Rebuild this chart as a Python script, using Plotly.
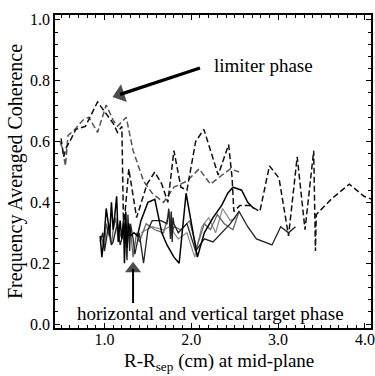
import plotly.graph_objects as go

# Limiter phase (dashed)
lim1_x = [0.50, 0.53, 0.56, 0.60, 0.67, 0.78, 0.92, 1.02, 1.10, 1.15, 1.20, 1.22, 1.28, 1.37, 1.49, 1.58,
          1.66, 1.73, 1.80, 1.88, 1.95, 2.05, 2.145, 2.31, 2.43, 2.47, 2.49, 2.56, 2.67, 2.79, 2.90, 3.01,
          3.12, 3.22, 3.31, 3.41, 3.43, 3.44, 3.61, 3.82, 3.99, 4.08]
lim1_y = [0.61, 0.55, 0.58, 0.60, 0.64, 0.65, 0.73, 0.69, 0.66, 0.63, 0.65, 0.31, 0.51, 0.35, 0.46, 0.50,
          0.46, 0.40, 0.57, 0.45, 0.44, 0.60, 0.64, 0.49, 0.59, 0.48, 0.37, 0.39, 0.39, 0.37, 0.52, 0.48,
          0.29, 0.55, 0.31, 0.57, 0.24, 0.36, 0.41, 0.46, 0.42, 0.41]
lim2_x = [0.49, 0.52, 0.55, 0.58, 0.66, 0.75, 0.82, 0.92, 1.02, 1.10, 1.15, 1.25, 1.33, 1.45, 1.55, 1.68,
          1.80, 1.95, 2.09, 2.22, 2.31, 2.45, 2.55]
lim2_y = [0.60, 0.57, 0.52, 0.62, 0.64, 0.67, 0.68, 0.63, 0.72, 0.67, 0.65, 0.68, 0.57, 0.47, 0.43, 0.40,
          0.45, 0.47, 0.51, 0.46, 0.48, 0.51, 0.50]

# Target phase (solid)
tgt1_x = [0.95, 0.97, 1.00, 1.02, 1.04, 1.06, 1.08, 1.10, 1.12, 1.14, 1.16, 1.18, 1.20, 1.22, 1.23, 1.245,
          1.26, 1.28, 1.30, 1.34, 1.38, 1.42, 1.50, 1.58, 1.66, 1.72, 1.80, 1.86, 1.94, 2.07, 2.15, 2.25,
          2.35, 2.42, 2.48, 2.58, 2.65, 2.72]
tgt1_y = [0.29, 0.22, 0.30, 0.38, 0.34, 0.29, 0.40, 0.31, 0.36, 0.42, 0.27, 0.34, 0.28, 0.33, 0.20, 0.37,
          0.25, 0.33, 0.29, 0.30, 0.29, 0.34, 0.40, 0.41, 0.30, 0.26, 0.22, 0.20, 0.43, 0.22, 0.30, 0.35,
          0.39, 0.43, 0.45, 0.44, 0.40, 0.38]
tgt2_x = [0.95, 0.98, 1.00, 1.03, 1.05, 1.08, 1.10, 1.13, 1.15, 1.18, 1.20, 1.22, 1.24, 1.26, 1.27, 1.29,
          1.30, 1.33, 1.35, 1.40, 1.45, 1.50, 1.55, 1.65, 1.72, 1.74, 1.76, 1.77, 1.78, 1.79, 1.80, 1.85,
          1.95, 2.05, 2.15, 2.25, 2.35, 2.45, 2.55, 2.65, 2.75, 2.93, 3.03, 3.12, 3.20]
tgt2_y = [0.27, 0.30, 0.24, 0.29, 0.33, 0.26, 0.27, 0.31, 0.33, 0.26, 0.28, 0.35, 0.30, 0.21, 0.36, 0.24,
          0.33, 0.28, 0.23, 0.30, 0.20, 0.31, 0.34, 0.34, 0.33, 0.38, 0.28, 0.37, 0.27, 0.35, 0.33, 0.30,
          0.33, 0.24, 0.28, 0.27, 0.30, 0.33, 0.37, 0.32, 0.28, 0.26, 0.32, 0.30, 0.32]
tgt3_x = [0.97, 1.00, 1.02, 1.05, 1.08, 1.10, 1.13, 1.16, 1.18, 1.22, 1.25, 1.27, 1.30, 1.33, 1.37, 1.40,
          1.48, 1.58, 1.68, 1.72, 1.75, 1.78, 1.80, 1.88, 1.98, 2.06, 2.15, 2.22, 2.30, 2.38, 2.48, 2.55]
tgt3_y = [0.28, 0.25, 0.33, 0.29, 0.26, 0.31, 0.35, 0.27, 0.29, 0.32, 0.26, 0.29, 0.31, 0.22, 0.30, 0.27,
          0.33, 0.31, 0.30, 0.34, 0.37, 0.30, 0.32, 0.31, 0.34, 0.25, 0.33, 0.31, 0.36, 0.33, 0.31, 0.37]
tgt4_x = [1.42, 1.55, 1.68, 1.75, 1.85, 1.95, 2.04, 2.12, 2.20, 2.28, 2.36, 2.45, 2.52]
tgt4_y = [0.30, 0.32, 0.31, 0.32, 0.28, 0.30, 0.22, 0.32, 0.35, 0.30, 0.38, 0.34, 0.35]

FONT = "Liberation Serif"
fig = go.Figure()

def add(x, y, color, dash, width=1.4):
    fig.add_trace(go.Scatter(x=x, y=y, mode="lines", showlegend=False,
                             line=dict(color=color, width=width, dash=dash), hoverinfo="skip"))

add(lim2_x, lim2_y, "#555555", "6px,3px", 1.5)
add(lim1_x, lim1_y, "#111111", "6px,3px", 1.5)
add(tgt4_x, tgt4_y, "#888888", "solid", 1.2)
add(tgt3_x, tgt3_y, "#666666", "solid", 1.3)
add(tgt2_x, tgt2_y, "#222222", "solid", 1.3)
add(tgt1_x, tgt1_y, "#000000", "solid", 1.5)

# arrows drawn as a line with a triangle marker at the head
def arrow(x0, y0, x1, y1, width, size):
    fig.add_trace(go.Scatter(x=[x0, x1], y=[y0, y1], mode="lines+markers", showlegend=False,
                             hoverinfo="skip", line=dict(color="black", width=width),
                             marker=dict(symbol="triangle-up", size=[0, size], angleref="previous",
                                         color="black", line=dict(width=0))))

arrow(2.10, 0.842, 1.18, 0.755, 3.2, 16)
arrow(1.329, 0.069, 1.329, 0.182, 2.0, 14)

fig.add_annotation(x=2.83, y=0.849, text="limiter phase", showarrow=False,
                   font=dict(family=FONT, size=19, color="black"))
fig.add_annotation(x=2.22, y=0.036, text="horizontal and vertical target phase", showarrow=False,
                   font=dict(family=FONT, size=19, color="black"))
# x-axis title
fig.add_annotation(x=0.519, y=-0.152, xref="paper", yref="paper", xanchor="center", yanchor="bottom",
                   text="R-R<sub>sep</sub> (cm) at mid-plane", showarrow=False,
                   font=dict(family=FONT, size=19, color="black"))

axis_common = dict(showgrid=False, zeroline=False, showline=True, linecolor="black", linewidth=1.5,
                   mirror="allticks", ticks="inside", ticklen=5, tickcolor="black", tickwidth=1,
                   automargin=False, ticklabeloverflow="allow",
                   tickfont=dict(family=FONT, size=16, color="black"))

fig.update_xaxes(range=[0.43, 4.07], tickvals=[1.0, 2.0, 3.0, 4.0],
                 ticktext=["1.0", "2.0", "3.0", "4.0"], ticklabelstandoff=-4,
                 minor=dict(dtick=0.1, tick0=0, ticks="inside", ticklen=3, tickcolor="black"),
                 **axis_common)
fig.update_yaxes(range=[-0.013, 1.016], tickvals=[0.0, 0.2, 0.4, 0.6, 0.8, 1.0],
                 ticktext=["0.0", "0.2", "0.4", "0.6", "0.8", "1.0"],
                 minor=dict(dtick=0.04, tick0=0, ticks="inside", ticklen=3, tickcolor="black"),
                 title=dict(text="Frequency Averaged Coherence", standoff=2,
                            font=dict(family=FONT, size=20, color="black")),
                 **axis_common)

fig.update_layout(width=375, height=376, margin=dict(l=55, r=4, t=15, b=48),
                  paper_bgcolor="white", plot_bgcolor="white")
fig.write_html("out.html")
